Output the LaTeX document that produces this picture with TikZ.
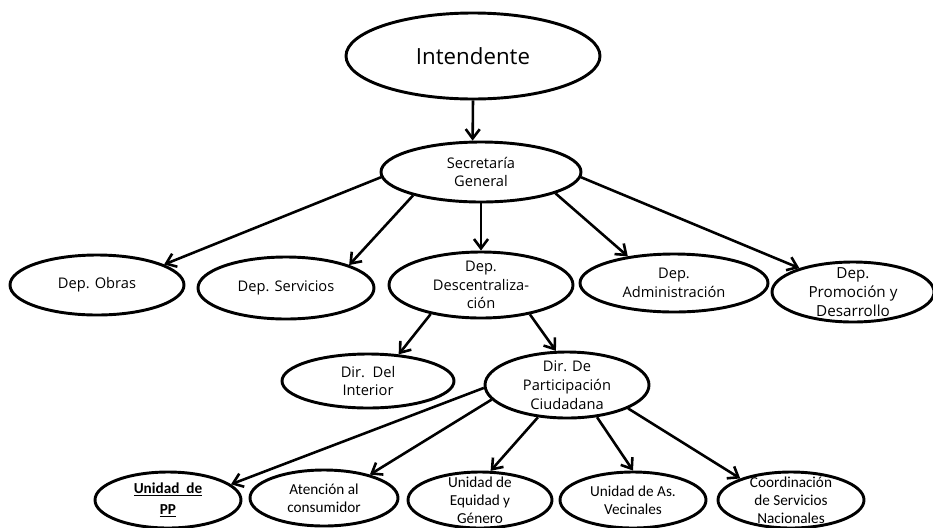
\documentclass[tikz,border=0pt]{standalone}
\usepackage{fontspec}
\setmainfont{Open Sans}
\newfontfamily\calfont{Carlito}
\usepackage{tikz}
\usetikzlibrary{arrows.meta,shapes.geometric}

\begin{document}
\begin{tikzpicture}[x=0.03cm,y=-0.03cm,
    ell/.style={draw,ellipse,line width=2.5pt,inner xsep=0pt,inner ysep=-6pt,align=center,
      font=\fontsize{12.5}{16}\selectfont},
    low/.style={ell,font=\calfont\fontsize{13}{15.5}\selectfont},
    flecha/.style={line width=2.2pt,-{Straight Barb[length=8pt,width=12pt]}}]
   \useasboundingbox (0,0) rectangle (933,527);
   \clip (0,0) rectangle (933,527);
    \draw (473,56) node[ell,minimum width=7.62cm,minimum height=2.58cm,font=\fontsize{19}{22}\selectfont] (intendente) {Intendente};
    \draw (481,172) node[ell,minimum width=6cm,minimum height=1.8cm,font=\fontsize{12.5}{16}\selectfont] (sec) {Secretaría\\General};

  \draw (97,285) node[ell,minimum width=5.22cm,minimum height=1.8cm] (obras) {Dep. Obras};
    \draw (286,288) node[ell,minimum width=5.28cm,minimum height=1.86cm] (servicios) {Dep. Servicios};
    \draw (481,285) node[ell,minimum width=5.52cm,minimum height=1.98cm] (descentr) {Dep.\\Descentraliza-\\ción};
    \draw (674,283) node[ell,minimum width=5.64cm,minimum height=1.74cm] (admin) {Dep.\\Administración};
  \draw (853,292) node[ell,minimum width=4.86cm,minimum height=1.8cm,font=\fontsize{13}{16}\selectfont] (promo) {Dep.\\Promoción y\\Desarrollo};

    \draw (368,381) node[ell,minimum width=5.16cm,minimum height=1.62cm] (interior) {Dir.\ \ Del\\Interior};
    \draw (567,385) node[ell,minimum width=4.92cm,minimum height=1.98cm] (partic) {Dir. De\\Participación\\Ciudadana};

  \draw (168,500) node[low,minimum width=4.38cm,minimum height=1.68cm] (pp) {\textbf{\underline{Unidad\ \ de}}\\[2pt]\textbf{\underline{PP}}};
    \draw (324,498) node[low,minimum width=4.44cm,minimum height=1.68cm] (atencion) {Atención al\\consumidor};
    \draw (480,500) node[low,minimum width=4.32cm,minimum height=1.68cm] (equidad) {Unidad de\\Equidad y\\Género};
    \draw (633,500) node[low,minimum width=4.38cm,minimum height=1.68cm] (vecinales) {Unidad de As.\\Vecinales};
  \draw (791,500) node[low,minimum width=4.38cm,minimum height=1.68cm] (coord) {Coordinación\\de Servicios\\Nacionales};

      \path[flecha] (intendente.south) edge (sec.105);
       \path[flecha] (sec.183) edge (obras.17);
       \path[flecha] (sec.199) edge (servicios.20);
       \path[flecha] (sec.south) edge (descentr.north);
       \path[flecha] (sec.344) edge (admin.150);
       \path[flecha] (sec.357) edge (promo.156);

       \path[flecha] (descentr.210) edge (interior.41);
       \path[flecha] (descentr.329) edge (partic.108);

       \path[flecha] (partic.182) edge (pp.14);
       \path[flecha] (partic.191) edge (atencion.27);
       \path[flecha] (partic.228) edge (equidad.70);
       \path[flecha] (partic.313) edge (vecinales.90);
       \path[flecha] (partic.339) edge (coord.157);

\end{tikzpicture}
\end{document}
